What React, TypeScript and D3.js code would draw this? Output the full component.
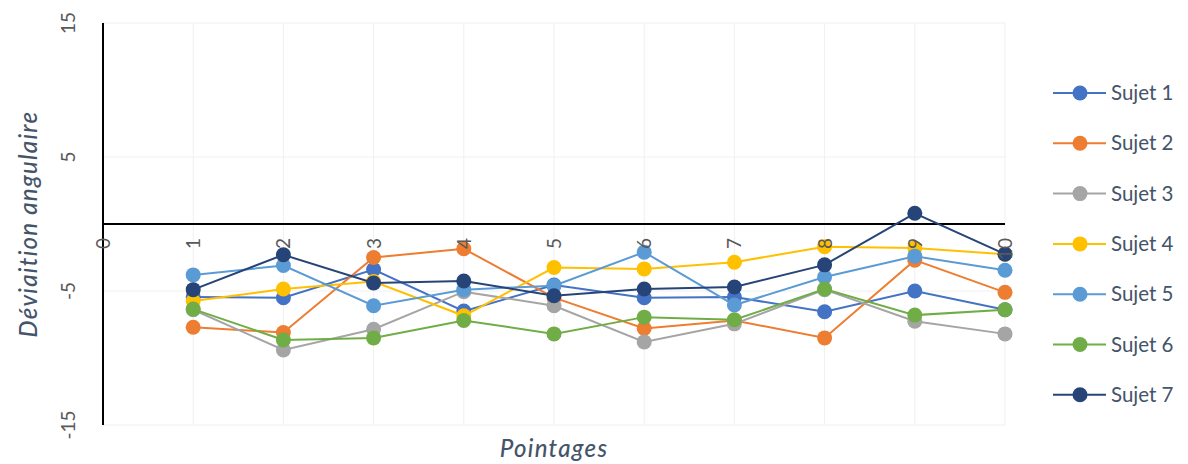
import React from "react";
import * as d3 from "d3";

const pointages = [1, 2, 3, 4, 5, 6, 7, 8, 9, 10];
const xTicks = [0, 1, 2, 3, 4, 5, 6, 7, 8, 9, 10];
const yTicks = [-15, -5, 5, 15];
const seriesNames = ["Sujet 1", "Sujet 2", "Sujet 3", "Sujet 4", "Sujet 5", "Sujet 6", "Sujet 7"];
const seriesColors = ["#4472C4", "#ED7D31", "#A5A5A5", "#FFC000", "#5B9BD5", "#70AD47", "#264478"];

const sujet1 = [-5.45, -5.5, -3.4, -6.5, -4.55, -5.5, -5.45, -6.55, -5.0, -6.4];
const sujet2 = [-7.7, -8.1, -2.5, -1.85, -5.5, -7.8, -7.2, -8.5, -2.7, -5.1];
const sujet3 = [-6.4, -9.4, -7.85, -5.05, -6.1, -8.8, -7.45, -4.9, -7.25, -8.2];
const sujet4 = [-5.75, -4.85, -4.3, -6.85, -3.25, -3.35, -2.85, -1.7, -1.8, -2.25];
const sujet5 = [-3.8, -3.1, -6.1, -4.9, -4.6, -2.1, -6.05, -3.95, -2.4, -3.45];
const sujet6 = [-6.35, -8.65, -8.5, -7.2, -8.2, -6.95, -7.15, -4.85, -6.8, -6.4];
const sujet7 = [-4.9, -2.3, -4.4, -4.25, -5.35, -4.85, -4.7, -3.05, 0.8, -2.25];

const allSeries = [sujet1, sujet2, sujet3, sujet4, sujet5, sujet6, sujet7];

const W = 1188;
const H = 464;

export default function App() {
  const x = d3.scaleLinear().domain([0, 10]).range([103, 1005]);
  const y = d3.scaleLinear().domain([-15, 15]).range([425, 23]);
  const line = d3
    .line<number>()
    .x((_, i) => x(pointages[i]))
    .y((d) => y(d));

  const tickFont = "Lato, 'Open Sans', sans-serif";
  const titleFont = "Lato, 'Noto Sans', sans-serif";

  return (
    <svg
      width={W}
      height={H}
      style={{ position: "absolute", left: 0, top: 0, background: "#fff" }}
    >
      {/* gridlines */}
      {xTicks.map((t) => (
        <line key={"gx" + t} x1={x(t)} x2={x(t)} y1={y(15)} y2={y(-15)} stroke="#F0F0F0" strokeWidth={1} />
      ))}
      {yTicks.map((t) => (
        <line key={"gy" + t} x1={x(0)} x2={x(10)} y1={y(t)} y2={y(t)} stroke="#F0F0F0" strokeWidth={1} />
      ))}
      {/* axes */}
      <line x1={x(0)} x2={x(10)} y1={y(0)} y2={y(0)} stroke="#000" strokeWidth={2} />
      <line x1={x(0)} x2={x(0)} y1={y(15)} y2={y(-15)} stroke="#000" strokeWidth={2} />

      {/* series */}
      {allSeries.map((s, si) => (
        <g key={"s" + si}>
          <path d={line(s) || ""} fill="none" stroke={seriesColors[si]} strokeWidth={2} />
          {s.map((v, i) => (
            <circle key={i} cx={x(pointages[i])} cy={y(v)} r={7.5} fill={seriesColors[si]} />
          ))}
        </g>
      ))}

      {/* y tick labels */}
      {yTicks.map((t) => (
        <text
          key={"yt" + t}
          transform={`translate(75,${y(t)}) rotate(-90)`}
          textAnchor="middle"
          fontFamily={tickFont}
          fontSize={19}
          fill="#595959"
        >
          {t}
        </text>
      ))}
      {/* x tick labels */}
      {xTicks.map((t) => (
        <text
          key={"xt" + t}
          transform={`translate(${x(t) + 7},238) rotate(-90)`}
          textAnchor="end"
          fontFamily={tickFont}
          fontSize={19}
          fill="#595959"
        >
          {t}
        </text>
      ))}

      {/* axis titles */}
      <text
        transform={`translate(37,${y(0)}) rotate(-90)`}
        textAnchor="middle"
        fontFamily={titleFont}
        fontStyle="italic"
        fontWeight={500}
        fontSize={24}
        letterSpacing={1.3}
        fill="#44546A"
      >
        Déviaition angulaire
      </text>
      <text
        x={x(5)}
        y={457}
        textAnchor="middle"
        fontFamily={titleFont}
        fontStyle="italic"
        fontWeight={500}
        fontSize={24}
        letterSpacing={1.3}
        fill="#44546A"
      >
        Pointages
      </text>

      {/* legend */}
      {seriesNames.map((name, i) => {
        const ly = 93 + i * 50.3;
        return (
          <g key={"lg" + i}>
            <line x1={1053} x2={1106} y1={ly} y2={ly} stroke={seriesColors[i]} strokeWidth={2} />
            <circle cx={1080} cy={ly} r={7.5} fill={seriesColors[i]} />
            <text
              x={1111}
              y={ly + 7}
              fontFamily={tickFont}
              fontSize={20.5}
              fill="#44546A"
            >
              {name}
            </text>
          </g>
        );
      })}
    </svg>
  );
}
